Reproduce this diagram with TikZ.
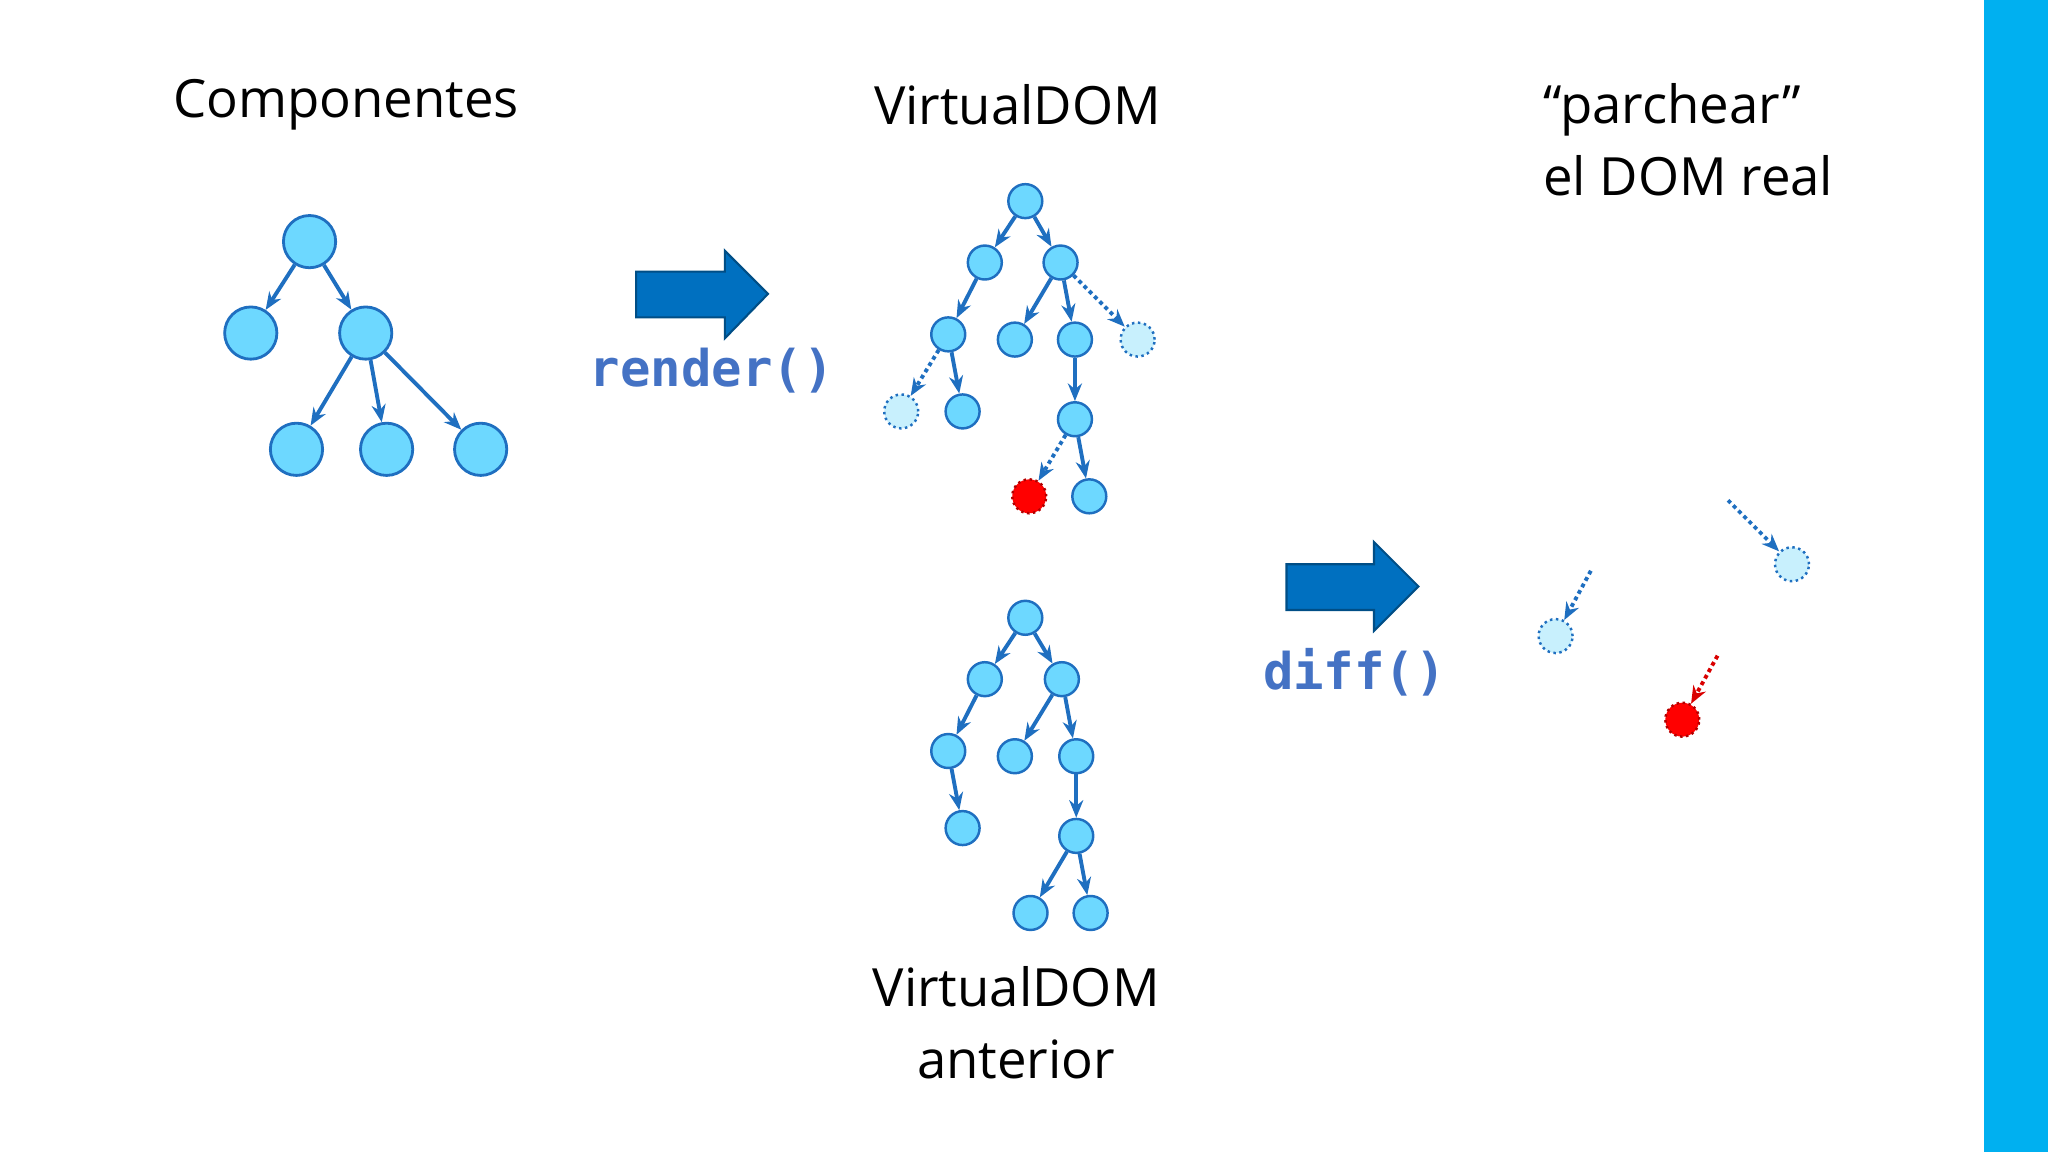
\documentclass[tikz,border=0pt]{standalone}
\usepackage{fontspec}
\setmainfont{Open Sans}
\newfontfamily\codefont{DejaVu Sans Mono}
\usetikzlibrary{arrows.meta}
\definecolor{nfill}{HTML}{6DD8FF}
\definecolor{nedge}{HTML}{1F6FC0}
\definecolor{ffill}{HTML}{C8F0FD}
\definecolor{abl}{HTML}{0070C0}
\definecolor{code}{HTML}{4472C4}
\definecolor{bar}{HTML}{00B0F0}
\begin{document}
\begin{tikzpicture}[x=0.013061cm,y=-0.013061cm,
 big/.style={circle,fill=nfill,draw=nedge,line width=0.8pt,minimum size=40*0.13061mm,inner sep=0},
 sm/.style={circle,fill=nfill,draw=nedge,line width=0.7pt,minimum size=26*0.13061mm,inner sep=0},
 fd/.style={sm,fill=ffill,densely dotted},
 rd/.style={sm,fill=red,draw=red!70!black,densely dotted},
 e/.style={-{Stealth[length=5pt,width=4pt]},draw=nedge,line width=1.1pt},
 ed/.style={e,densely dotted},
 title/.style={font=\fontsize{15}{20.5}\selectfont,align=center},
 fat/.style={fill=abl,draw=abl!70!black,line width=0.6pt},
 codet/.style={font=\codefont\bfseries\fontsize{14.4}{18}\selectfont,text=code}]
\useasboundingbox (0,0) rectangle (1568,882);
\fill[bar] (1519,0) rectangle (1568,882);
\node[title] (t1) at (265,80) {Componentes};
\node[title] (t2) at (779,80) {VirtualDOM};
\node[title,align=left,anchor=west] (t3) at (1172,107) {“parchear”\\el DOM real};
\node[title] (t4) at (778,783) {VirtualDOM\\anterior};
% component tree
\node[big] (c0) at (237,185) {};
\node[big] (c1) at (192,255) {};
\node[big] (c2) at (280,255) {};
\node[big] (c3) at (227,344) {};
\node[big] (c4) at (296,344) {};
\node[big] (c5) at (368,344) {};
\foreach \a/\b in {c0/c1,c0/c2,c2/c3,c2/c4,c2/c5} \draw[e] (\a) -- (\b);
% render arrow
\draw[fat] (487,208) -- (555,208) -- (555,192) -- (588,225) -- (555,259) -- (555,243) -- (487,243) -- cycle;
\node[codet] (r) at (545,284) {render()};
% virtual DOM
\node[sm] (v0) at (785,154) {};
\node[sm] (v1) at (754,201) {};
\node[sm] (v2) at (812,201) {};
\node[sm] (v3) at (726,256) {};
\node[sm] (v4) at (777,260) {};
\node[sm] (v5) at (823,260) {};
\node[fd] (v6) at (871,260) {};
\node[fd] (v7) at (690,315) {};
\node[sm] (v8) at (737,315) {};
\node[sm] (v9) at (823,321) {};
\node[rd] (v10) at (788,380) {};
\node[sm] (v11) at (834,380) {};
\foreach \a/\b in {v0/v1,v0/v2,v1/v3,v2/v4,v2/v5,v3/v8,v5/v9,v9/v11} \draw[e] (\a) -- (\b);
\foreach \a/\b in {v2/v6,v3/v7,v9/v10} \draw[ed] (\a) -- (\b);
% previous
\node[sm] (p0) at (785,473) {};
\node[sm] (p1) at (754,520) {};
\node[sm] (p2) at (813,520) {};
\node[sm] (p3) at (726,575) {};
\node[sm] (p4) at (777,579) {};
\node[sm] (p5) at (824,579) {};
\node[sm] (p6) at (737,634) {};
\node[sm] (p7) at (824,640) {};
\node[sm] (p8) at (789,699) {};
\node[sm] (p9) at (835,699) {};
\foreach \a/\b in {p0/p1,p0/p2,p1/p3,p2/p4,p2/p5,p3/p6,p5/p7,p7/p8,p7/p9} \draw[e] (\a) -- (\b);
% diff arrow
\draw[fat] (985,432) -- (1052,432) -- (1052,415) -- (1086,449) -- (1052,483) -- (1052,467) -- (985,467) -- cycle;
\node[codet] (d) at (1037,515) {diff()};
% patches
\node[fd] (q1) at (1191,487) {};
\node[fd] (q2) at (1372,432) {};
\node[rd] (q3) at (1288,551) {};
\coordinate (s1) at (1218,437);
\coordinate (s2) at (1323,383);
\coordinate (s3) at (1315,502);
\draw[ed] (s1) -- (q1);
\draw[ed] (s2) -- (q2);
\draw[ed,draw=red!85!black] (s3) -- (q3);
\end{tikzpicture}
\end{document}
